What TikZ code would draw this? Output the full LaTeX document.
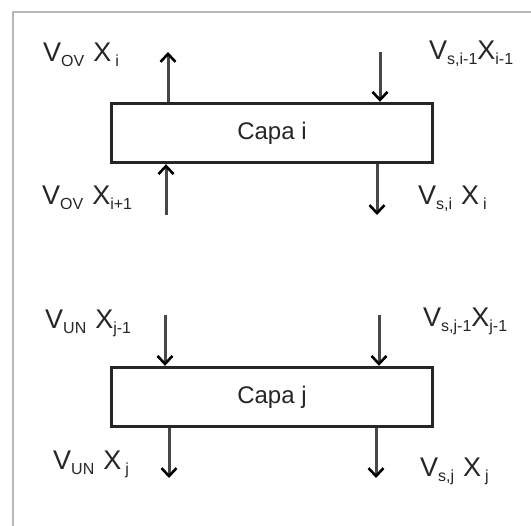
\documentclass[tikz,border=0pt]{standalone}
\usepackage{fontspec}
\setmainfont{Liberation Sans}
\usetikzlibrary{arrows.meta}
\newcommand\lsub[1]{\raisebox{-5pt}{\fontsize{16}{16}\selectfont #1}}
\begin{document}
\begin{tikzpicture}[x=1pt,y=-1pt,
  lab/.style={anchor=base west,inner sep=0pt,font=\fontsize{27}{29}\selectfont,text=black!85},
  layer/.style={draw=black!85,line width=3.4pt,minimum width=321pt,minimum height=59pt,inner sep=0pt,font=\fontsize{24}{26}\selectfont,text=black!85},
  flow/.style={line width=3pt,draw=black!72,-{Straight Barb[length=8pt,width=15pt,line width=2.6pt,color=black]}}]
\useasboundingbox (0,0) rectangle (531,526);
\fill[white] (0,0) rectangle (531,526);
\draw[black!28,line width=2.5pt] (13,526) -- (13,12) -- (531,12);
% layers
\node[layer] (ci) at (272,133) {Capa i};
\node[layer] (cj) at (272,397) {Capa j};
% free ends
\coordinate (t1) at (168,52);
\coordinate (t2) at (380,52);
\coordinate (b1) at (166,215);
\coordinate (b2) at (377,215);
\coordinate (u1) at (165,315);
\coordinate (u2) at (379,315);
\coordinate (d1) at (169,478);
\coordinate (d2) at (376,478);
% connectors
\draw[flow] (ci.north -| t1) -- (t1);
\draw[flow] (t2) -- (ci.north -| t2);
\draw[flow] (b1) -- (ci.south -| b1);
\draw[flow] (ci.south -| b2) -- (b2);
\draw[flow] (u1) -- (cj.north -| u1);
\draw[flow] (u2) -- (cj.north -| u2);
\draw[flow] (cj.south -| d1) -- (d1);
\draw[flow] (cj.south -| d2) -- (d2);
% labels
\node[lab] (l1) at (43,62) {V\lsub{OV}\hspace{9pt}X\lsub{\hspace{4pt}i}};
\node[lab] (r1) at (429,60) {V\lsub{s,i-1}X\lsub{i-1}};
\node[lab] (l2) at (42,205) {V\lsub{OV}\hspace{9pt}X\lsub{i+1}};
\node[lab] (r2) at (418,205) {V\lsub{s,i}\hspace{9pt}X\lsub{\hspace{4pt}i}};
\node[lab] (l3) at (45,329) {V\lsub{UN}\hspace{9pt}X\lsub{j-1}};
\node[lab] (r3) at (423,327) {V\lsub{s,j-1}X\lsub{j-1}};
\node[lab] (l4) at (53,470) {V\lsub{UN}\hspace{9pt}X\lsub{\hspace{4pt}j}};
\node[lab] (r4) at (420,477) {V\lsub{s,j}\hspace{9pt}X\lsub{\hspace{4pt}j}};
\end{tikzpicture}
\end{document}
